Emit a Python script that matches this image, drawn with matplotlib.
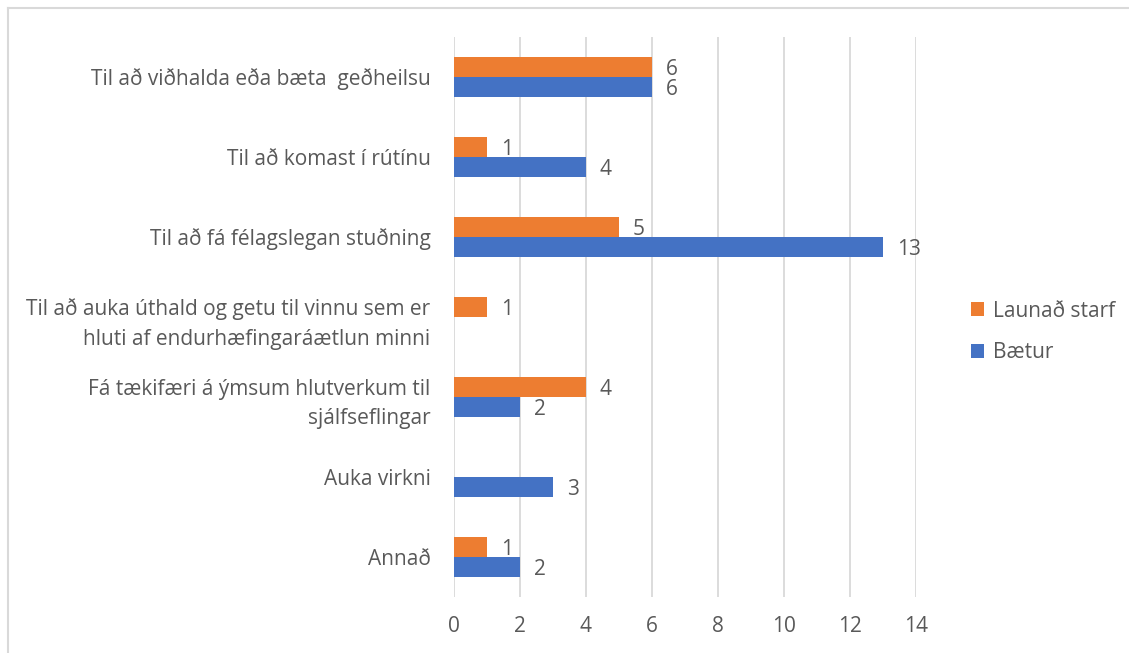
import numpy as np
import matplotlib.pyplot as plt
from matplotlib.lines import Line2D

plt.rcParams['font.family'] = ['Open Sans', 'DejaVu Sans']

categories = [
    "Til að viðhalda eða bæta  geðheilsu",
    "Til að komast í rútínu",
    "Til að fá félagslegan stuðning",
    "Til að auka úthald og getu til vinnu sem er\nhluti af endurhæfingaráætlun minni",
    "Fá tækifæri á ýmsum hlutverkum til\nsjálfseflingar",
    "Auka virkni",
    "Annað",
]
launad = [6, 1, 5, 1, 4, 0, 1]
baetur = [6, 4, 13, 0, 2, 3, 2]

orange = "#ED7D31"
blue = "#4472C4"
txt = "#595959"
fs = 15

fig = plt.figure(figsize=(11.29, 6.53), dpi=100)
ax = fig.add_axes([454 / 1129, 56 / 653, 462 / 1129, 560 / 653])

pos = np.arange(len(categories))
h = 0.25
b1 = ax.barh(pos - h / 2, launad, height=h, color=orange, label="Launað starf", zorder=3)
b2 = ax.barh(pos + h / 2, baetur, height=h, color=blue, label="Bætur", zorder=3)

# data labels, skip the empty ones
for bars, vals in [(b1, launad), (b2, baetur)]:
    for rect, v in zip(bars, vals):
        if v == 0:
            continue
        ax.annotate(str(v), (rect.get_width(), rect.get_y() + rect.get_height() / 2),
                    xytext=(10, -1.5), textcoords="offset points", va="center", ha="left",
                    fontsize=fs, color=txt)

ax.set_xlim(0, 14)
ax.set_xticks(range(0, 15, 2))
ax.set_ylim(len(categories) - 0.5, -0.5)
ax.set_yticks(pos)
ax.set_yticklabels(categories, linespacing=1.55)
ax.tick_params(axis="both", length=0, labelsize=fs, colors=txt)
ax.tick_params(axis="x", pad=14)
ax.tick_params(axis="y", pad=17)
ax.grid(axis="x", color="#D9D9D9", linewidth=1.3, zorder=0)
for s in ax.spines.values():
    s.set_visible(False)

ax.legend(handles=[b1, b2], loc="center left", bbox_to_anchor=(952 / 1129, 1 - 332 / 653),
          bbox_transform=fig.transFigure, frameon=False, fontsize=fs, labelcolor=txt,
          handlelength=0.65, handleheight=0.65, handletextpad=0.4, labelspacing=1.0)

# outer chart border (top and left visible)
fig.add_artist(Line2D([7.5 / 1129, 7.5 / 1129], [0, 1 - 7.5 / 653], color="#D9D9D9", lw=1.5))
fig.add_artist(Line2D([7.5 / 1129, 1], [1 - 7.5 / 653, 1 - 7.5 / 653], color="#D9D9D9", lw=1.5))

fig.savefig("out.png", dpi=100)
